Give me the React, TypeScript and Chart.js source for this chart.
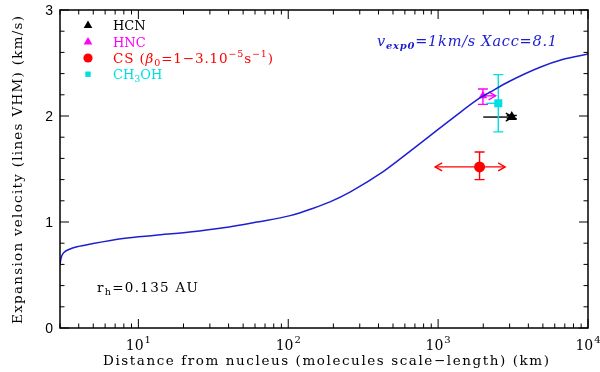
import React, { useEffect, useRef } from 'react';
import { Chart, registerables } from 'chart.js';

Chart.register(...registerables);

// ---- Data ----
const curveDistance = [3.0, 3.03, 3.08, 3.2, 3.5, 4.0, 4.7, 7.9, 13, 22, 37, 62, 103, 147, 190, 260, 430, 620, 885, 1265, 1900, 2220, 3020, 4790, 6840, 10000];
const curveVelocity = [0.59, 0.64, 0.68, 0.715, 0.745, 0.77, 0.79, 0.845, 0.875, 0.905, 0.945, 1.0, 1.06, 1.13, 1.19, 1.285, 1.475, 1.645, 1.815, 1.985, 2.17, 2.225, 2.33, 2.46, 2.535, 2.585];

const speciesNames = ['HCN', 'HNC', 'CS', 'CH3OH'];
const speciesX = [3100, 1990, 1890, 2520];
const speciesY = [1.99, 2.19, 1.52, 2.12];
const speciesYLow = [1.975, 2.11, 1.40, 1.85];
const speciesYHigh = [2.005, 2.255, 1.66, 2.39];
const speciesXLow = [2000, 1990, 955, 2100];
const speciesXHigh = [3150, 2420, 2800, 2520];
const speciesHeadLeft = [false, false, true, false];
const speciesHeadRight = [true, true, true, false];
const speciesColors = ['#000000', '#ff00ff', '#ff0000', '#00e0e0'];
const speciesStyles = ['triangle', 'triangle', 'circle', 'rect'];
const speciesRadius = [6, 5, 5.5, 5.7];

const xTickDecades = [10, 100, 1000, 10000];
const xTickExponents = ['1', '2', '3', '4'];
const yTickValues = [0, 1, 2, 3];

const X_MIN = 3;
const X_MAX = 10000;
const Y_MIN = 0;
const Y_MAX = 3;

const SERIF = '"DejaVu Serif", "Liberation Serif", serif';
const SANS = '"Liberation Sans", Arial, sans-serif';

type Seg = { t: string; size?: number; dy?: number; italic?: boolean; bold?: boolean };

function segFont(s: Seg, base: number, family: string, italic: boolean) {
  const it = s.italic || italic ? 'italic ' : '';
  const b = s.bold ? 'bold ' : '';
  return `${it}${b}${s.size || base}px ${family}`;
}

function drawRich(
  ctx: CanvasRenderingContext2D,
  segs: Seg[],
  x: number,
  y: number,
  opts: { base: number; family: string; color: string; target?: number; align?: 'left' | 'center'; italic?: boolean }
) {
  const { base, family, color, target, align = 'left', italic = false } = opts;
  ctx.save();
  ctx.fillStyle = color;
  ctx.textBaseline = 'alphabetic';
  ctx.textAlign = 'left';
  let raw = 0;
  let count = 0;
  for (const s of segs) {
    ctx.font = segFont(s, base, family, italic);
    for (const ch of Array.from(s.t)) {
      raw += ctx.measureText(ch).width;
      count++;
    }
  }
  let ls = 0;
  if (target && count > 1) ls = Math.max(0, (target - raw) / (count - 1));
  const total = raw + ls * (count - 1);
  let cx = align === 'center' ? x - total / 2 : x;
  for (const s of segs) {
    ctx.font = segFont(s, base, family, italic);
    for (const ch of Array.from(s.t)) {
      ctx.fillText(ch, cx, y + (s.dy || 0));
      cx += ctx.measureText(ch).width + ls;
    }
  }
  ctx.restore();
}

function arrowHead(ctx: CanvasRenderingContext2D, x: number, y: number, dir: number) {
  ctx.beginPath();
  ctx.moveTo(x - dir * 7, y - 4);
  ctx.lineTo(x, y);
  ctx.lineTo(x - dir * 7, y + 4);
  ctx.stroke();
}

function tri(ctx: CanvasRenderingContext2D, cx: number, cy: number, r: number) {
  ctx.beginPath();
  ctx.moveTo(cx, cy - r);
  ctx.lineTo(cx + r * 0.866, cy + r / 2);
  ctx.lineTo(cx - r * 0.866, cy + r / 2);
  ctx.closePath();
  ctx.fill();
}

const errorBarPlugin = {
  id: 'errorBars',
  beforeDatasetsDraw(chart: any) {
    const ctx: CanvasRenderingContext2D = chart.ctx;
    const xs = chart.scales.x;
    const ys = chart.scales.y;
    ctx.save();
    ctx.lineWidth = 1.4;
    for (let i = 0; i < speciesNames.length; i++) {
      ctx.strokeStyle = speciesColors[i];
      const px = xs.getPixelForValue(speciesX[i]);
      const py = ys.getPixelForValue(speciesY[i]);
      const yl = ys.getPixelForValue(speciesYLow[i]);
      const yh = ys.getPixelForValue(speciesYHigh[i]);
      ctx.beginPath();
      ctx.moveTo(px, yl);
      ctx.lineTo(px, yh);
      ctx.moveTo(px - 5, yl);
      ctx.lineTo(px + 5, yl);
      ctx.moveTo(px - 5, yh);
      ctx.lineTo(px + 5, yh);
      ctx.stroke();
      const xl = xs.getPixelForValue(speciesXLow[i]);
      const xh = xs.getPixelForValue(speciesXHigh[i]);
      if (Math.abs(xh - xl) > 0.5) {
        ctx.beginPath();
        ctx.moveTo(xl, py);
        ctx.lineTo(xh, py);
        ctx.stroke();
      }
      if (speciesHeadLeft[i]) arrowHead(ctx, xl, py, -1);
      if (speciesHeadRight[i]) arrowHead(ctx, xh, py, 1);
    }
    ctx.restore();
  },
};

const decorPlugin = {
  id: 'decor',
  afterDraw(chart: any) {
    const ctx: CanvasRenderingContext2D = chart.ctx;
    const { left, right, top, bottom } = chart.chartArea;
    const xs = chart.scales.x;
    const ys = chart.scales.y;
    ctx.save();
    // frame
    ctx.strokeStyle = '#000';
    ctx.lineWidth = 1.5;
    ctx.strokeRect(left, top, right - left, bottom - top);
    // x ticks
    ctx.lineWidth = 1;
    ctx.beginPath();
    for (let e = 0; e <= 4; e++) {
      for (let m = 1; m <= 9; m++) {
        const v = m * Math.pow(10, e);
        if (v < X_MIN || v > X_MAX) continue;
        const p = xs.getPixelForValue(v);
        const len = m === 1 ? 9 : 4.5;
        ctx.moveTo(p, bottom);
        ctx.lineTo(p, bottom - len);
        ctx.moveTo(p, top);
        ctx.lineTo(p, top + len);
      }
    }
    // y ticks
    for (let i = 0; i <= 15; i++) {
      const v = i * 0.2;
      const p = ys.getPixelForValue(v);
      const len = i % 5 === 0 ? 9 : 4.5;
      ctx.moveTo(left, p);
      ctx.lineTo(left + len, p);
      ctx.moveTo(right, p);
      ctx.lineTo(right - len, p);
    }
    ctx.stroke();

    // y tick labels
    ctx.fillStyle = '#000';
    ctx.font = `14px ${SANS}`;
    ctx.textAlign = 'right';
    ctx.textBaseline = 'middle';
    for (const v of yTickValues) {
      ctx.fillText(String(v), left - 7, ys.getPixelForValue(v) + 1);
    }
    // x tick labels
    ctx.textBaseline = 'alphabetic';
    ctx.textAlign = 'left';
    xTickDecades.forEach((d, i) => {
      const p = xs.getPixelForValue(d);
      ctx.font = `14px ${SERIF}`;
      const w1 = ctx.measureText('10').width;
      ctx.font = `10px ${SERIF}`;
      const w2 = ctx.measureText(xTickExponents[i]).width;
      const start = p - (w1 + w2 + 1) / 2;
      ctx.font = `14px ${SERIF}`;
      ctx.fillText('10', start, 350);
      ctx.font = `10px ${SERIF}`;
      ctx.fillText(xTickExponents[i], start + w1 + 1, 343);
    });

    // axis titles
    drawRich(ctx, [{ t: 'Distance from nucleus (molecules scale\u2212length) (km)' }], 103, 364.5, {
      base: 13.5, family: SERIF, color: '#000', target: 446,
    });
    ctx.save();
    ctx.translate(22, 170);
    ctx.rotate(-Math.PI / 2);
    drawRich(ctx, [{ t: 'Expansion velocity (lines VHM) (km/s)' }], 0, 0, {
      base: 13.5, family: SERIF, color: '#000', target: 308, align: 'center',
    });
    ctx.restore();

    // legend
    const lx = 88;
    ctx.fillStyle = speciesColors[0];
    tri(ctx, lx, 25.5, 5);
    ctx.fillStyle = speciesColors[1];
    tri(ctx, lx, 42, 5);
    ctx.fillStyle = speciesColors[2];
    ctx.beginPath();
    ctx.arc(lx, 58, 4.6, 0, Math.PI * 2);
    ctx.fill();
    ctx.fillStyle = speciesColors[3];
    ctx.fillRect(lx - 2.7, 71.5, 5.4, 5.4);

    const tx = 113;
    drawRich(ctx, [{ t: 'HCN' }], tx, 30, { base: 13, family: SERIF, color: speciesColors[0] });
    drawRich(ctx, [{ t: 'HNC' }], tx, 46.5, { base: 13, family: SERIF, color: speciesColors[1] });
    drawRich(
      ctx,
      [
        { t: 'CS (' },
        { t: '\u03b2', italic: true },
        { t: '0', size: 9.5, dy: 3 },
        { t: '=1\u22123.10' },
        { t: '\u22125', size: 9.5, dy: -6 },
        { t: 's' },
        { t: '\u22121', size: 9.5, dy: -6 },
        { t: ')' },
      ],
      tx,
      63,
      { base: 13.5, family: SERIF, color: speciesColors[2], target: 160 }
    );
    drawRich(
      ctx,
      [{ t: 'CH' }, { t: '3', size: 9.5, dy: 3 }, { t: 'OH' }],
      tx,
      79,
      { base: 13, family: SERIF, color: speciesColors[3] }
    );

    // annotations
    drawRich(
      ctx,
      [
        { t: 'v' },
        { t: 'exp0', size: 10, dy: 3, bold: true },
        { t: '=1km/s Xacc=8.1' },
      ],
      377,
      46,
      { base: 14.5, family: SERIF, color: '#1c1cd0', target: 180, italic: true }
    );
    drawRich(
      ctx,
      [{ t: 'r' }, { t: 'h', size: 9.5, dy: 3.5 }, { t: '=0.135 AU' }],
      97,
      291.5,
      { base: 13.5, family: SERIF, color: '#000', target: 101 }
    );
    ctx.restore();
  },
};

export default function App() {
  const canvasRef = useRef<HTMLCanvasElement | null>(null);

  useEffect(() => {
    const canvas = canvasRef.current;
    if (!canvas) return;
    const datasets: any[] = [
      {
        type: 'line',
        label: 'model',
        data: curveDistance.map((x, i) => ({ x, y: curveVelocity[i] })),
        borderColor: '#1f1fd2',
        borderWidth: 1.5,
        pointRadius: 0,
        cubicInterpolationMode: 'monotone',
        fill: false,
      },
      ...speciesNames.map((name, i) => ({
        type: 'scatter',
        label: name,
        data: [{ x: speciesX[i], y: speciesY[i] }],
        pointStyle: speciesStyles[i],
        pointRadius: speciesRadius[i],
        backgroundColor: speciesColors[i],
        borderColor: speciesColors[i],
        borderWidth: 0,
      })),
    ];
    const chart = new Chart(canvas, {
      type: 'scatter',
      data: { datasets },
      options: {
        responsive: false,
        devicePixelRatio: 1,
        animation: false,
        layout: { padding: { top: 10, right: 12, left: 0, bottom: 0 } },
        plugins: { legend: { display: false }, tooltip: { enabled: false } },
        scales: {
          x: {
            type: 'logarithmic',
            min: X_MIN,
            max: X_MAX,
            grid: { display: false },
            border: { display: false },
            ticks: { display: false },
            afterFit: (s: any) => {
              s.height = 44;
            },
          },
          y: {
            type: 'linear',
            min: Y_MIN,
            max: Y_MAX,
            grid: { display: false },
            border: { display: false },
            ticks: { display: false },
            afterFit: (s: any) => {
              s.width = 60;
            },
          },
        },
      } as any,
      plugins: [errorBarPlugin, decorPlugin],
    });
    return () => chart.destroy();
  }, []);

  return (
    <canvas
      ref={canvasRef}
      width={600}
      height={372}
      style={{ position: 'fixed', left: 0, top: 0, width: 600, height: 372, background: '#fff' }}
    />
  );
}
